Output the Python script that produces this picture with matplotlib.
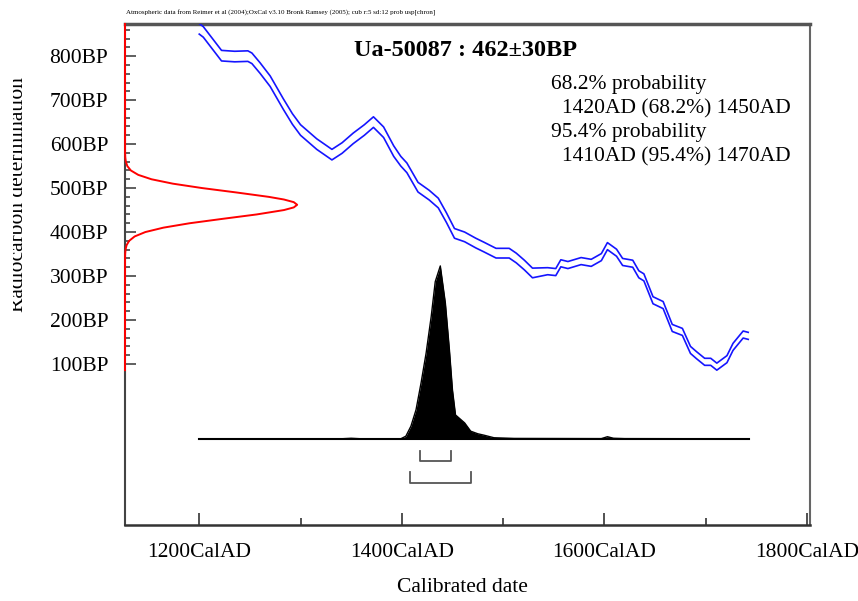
#!/usr/bin/env python3
"""OxCal style calibration plot for Ua-50087."""

import matplotlib
matplotlib.use("Agg")
import matplotlib.pyplot as plt
from matplotlib.ticker import FixedLocator
from matplotlib.transforms import Bbox, TransformedBbox

# calibration curve (cal AD, centre BP, half width BP)
curve_year = [1200, 1204, 1214, 1222, 1235, 1248, 1252, 1260, 1270, 1283,
              1292, 1300, 1316, 1331, 1341, 1352, 1363, 1372, 1382, 1392,
              1399, 1405, 1416, 1427, 1436, 1444, 1452, 1462, 1473, 1481,
              1493, 1506, 1513, 1521, 1529, 1544, 1552, 1557, 1564, 1577,
              1587, 1597, 1603, 1612, 1618, 1628, 1634, 1639, 1648, 1658,
              1667, 1677, 1685, 1691, 1699, 1705, 1711, 1721, 1727, 1737,
              1742]
curve_bp = [862, 855, 825, 801, 799, 800, 795, 773, 743, 691,
            657, 632, 600, 576, 591, 613, 632, 650, 627, 584,
            561, 546, 502, 484, 466, 433, 397, 389, 375, 366,
            352, 352, 341, 325, 307, 311, 309, 329, 325, 334,
            330, 343, 368, 353, 332, 328, 304, 297, 245, 234,
            182, 173, 132, 120, 105, 105, 94, 111, 139, 167,
            164]
curve_err = [12] * 20 + [11] * 15 + [8] * 26

# measurement 462 +/- 30 BP, relative probability
meas_bp = [86, 340, 350, 360, 370, 380, 390, 400, 410, 420, 430, 440, 450,
           456, 462, 468, 474, 480, 490, 500, 510, 520, 530, 540, 550, 560,
           570, 580, 873]
meas_p = [0, 0.0003, 0.0009, 0.003, 0.009, 0.024, 0.056, 0.118, 0.223,
          0.375, 0.566, 0.764, 0.923, 0.980, 1.0, 0.980, 0.923, 0.835,
          0.647, 0.448, 0.278, 0.154, 0.077, 0.034, 0.0135, 0.0048,
          0.0015, 0.0004, 0]

# calibrated distribution
post_year = [1200, 1340, 1350, 1360, 1399, 1404, 1409, 1414, 1419, 1424,
             1429, 1433, 1438, 1443, 1447, 1450, 1453, 1462, 1468, 1475,
             1481, 1491, 1511, 1597, 1603, 1609, 1620, 1743]
post_p = [0, 0, 0.003, 0, 0, 0.015, 0.073, 0.167, 0.323, 0.496,
          0.707, 0.909, 1.0, 0.785, 0.514, 0.283, 0.138, 0.092, 0.044, 0.029,
          0.021, 0.006, 0.002, 0.001, 0.012, 0.003, 0.001, 0]

# unrounded ranges behind the 68.2% and 95.4% text
range68 = (1418, 1449)
range95 = (1408, 1468)

SERIF = ["Liberation Serif", "DejaVu Serif"]
FS = 15.5

plt.rcParams.update({"font.family": SERIF, "font.size": FS})

fig = plt.figure(figsize=(8.58, 6.01), dpi=100)
ax = fig.add_axes([125 / 858, 1 - 525 / 601, 685 / 858, 501 / 601])
x0, x1 = 1126.7, 1803
y0, y1 = -266, 873
ax.set_xlim(x0, x1)
ax.set_ylim(y0, y1)

# calibration curve band edges
upper = [b + e for b, e in zip(curve_bp, curve_err)]
lower = [b - e for b, e in zip(curve_bp, curve_err)]
ax.plot(curve_year, upper, color="#1515ff", lw=1.2, zorder=3)
ax.plot(curve_year, lower, color="#1515ff", lw=1.2, zorder=3)

# radiocarbon measurement along the y axis
ax.plot([x0 + p * 170 for p in meas_p], meas_bp, color="#ff0000", lw=1.4,
        clip_on=False, zorder=6)

# calibrated probability
base = -70
post_h = [base + p * 393 for p in post_p]
ax.fill_between(post_year, base, post_h, color="black", lw=0, zorder=4)
ax.plot(post_year, post_h, color="black", lw=1.0, zorder=4)
ax.plot([post_year[0], post_year[-1]], [base, base], color="black", lw=1.5,
        zorder=4)

# range brackets
for (a, b), yb, yt in [(range68, -120, -97), (range95, -170, -145)]:
    ax.plot([a, a, b, b], [yt, yb, yb, yt], color="#555555", lw=1.3)

# axes styling
ax.spines["top"].set_color("#555555")
ax.spines["top"].set_linewidth(2.5)
ax.spines["right"].set_color("#666666")
ax.spines["right"].set_linewidth(1.5)
ax.spines["left"].set_color("#444444")
ax.spines["left"].set_linewidth(1.5)
ax.spines["bottom"].set_color("#333333")
ax.spines["bottom"].set_linewidth(1.8)

ax.xaxis.set_major_locator(FixedLocator([1200, 1400, 1600, 1800]))
ax.xaxis.set_minor_locator(FixedLocator([1300, 1500, 1700]))
ax.set_xticklabels(["1200CalAD", "1400CalAD", "1600CalAD", "1800CalAD"])
ax.yaxis.set_major_locator(FixedLocator(list(range(100, 900, 100))))
ax.yaxis.set_minor_locator(FixedLocator(list(range(100, 880, 20))))
ax.set_yticklabels([f"{v}BP" for v in range(100, 900, 100)])
ax.tick_params(axis="x", which="major", direction="in", length=9, width=1.2,
               color="#333333", pad=13, labelsize=FS)
ax.tick_params(axis="x", which="minor", direction="in", length=4.8, width=1.2,
               color="#333333")
ax.tick_params(axis="y", which="major", direction="in", length=7.7, width=1.2,
               color="#444444", pad=12, labelsize=FS)
ax.tick_params(axis="y", which="minor", direction="in", length=3.4, width=1.2,
               color="#444444")

# text
fig.text(126 / 858, 1 - 12.5 / 601,
         "Atmospheric data from Reimer et al (2004);OxCal v3.10 Bronk Ramsey "
         "(2005); cub r:5 sd:12 prob usp[chron]",
         fontsize=5.0, ha="left", va="center")
fig.text(465 / 858, 1 - 50 / 601, "Ua-50087 : 462\u00b130BP", fontsize=17.5,
         fontweight="bold", ha="center", va="center")
prob_lines = [(551, 85, "68.2% probability"),
              (562, 109, "1420AD (68.2%) 1450AD"),
              (551, 133, "95.4% probability"),
              (562, 157, "1410AD (95.4%) 1470AD")]
for px, py, s in prob_lines:
    fig.text(px / 858, 1 - py / 601, s, fontsize=FS, ha="left", va="center")

fig.text(462 / 858, 1 - 587 / 601, "Calibrated date", fontsize=FS,
         ha="center", va="center")
ylab = fig.text(28 / 858, 1 - 194.5 / 601, "Radiocarbon determination",
                fontsize=FS, rotation=90, ha="right", va="center")
ylab.set_clip_box(TransformedBbox(Bbox.from_extents(13 / 858, 0, 1, 1),
                                  fig.transFigure))
ylab.set_clip_on(True)

fig.savefig("out.png", dpi=100)
